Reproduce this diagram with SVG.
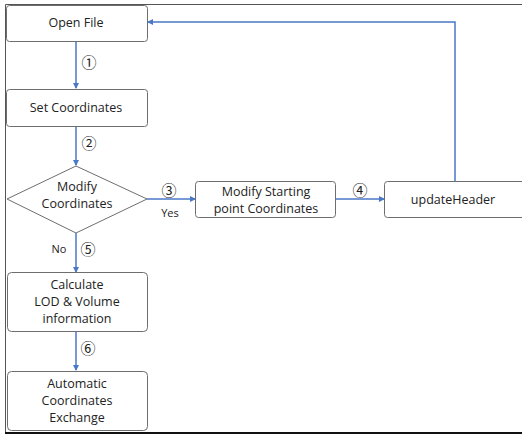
<svg xmlns="http://www.w3.org/2000/svg" width="522" height="434" viewBox="0 0 522 434">
<style>
.box{fill:#fff;stroke:#6e6e6e;stroke-width:1}
.t{font-family:"Open Sans","Noto Sans CJK KR",sans-serif;font-size:12.5px;fill:#222;text-anchor:middle}
.n{font-family:"Noto Sans CJK KR","DejaVu Sans",sans-serif;font-size:15px;fill:#222;text-anchor:middle}
.s{font-family:"Open Sans","Noto Sans CJK KR",sans-serif;font-size:11px;fill:#222;text-anchor:middle}
.c{fill:none;stroke:#4a78c8;stroke-width:1.5}
</style>
<defs>
<marker id="ah" markerWidth="6" markerHeight="6" refX="5" refY="3" orient="auto" markerUnits="userSpaceOnUse">
<path d="M0,0 L6,3 L0,6 z" fill="#4a78c8"/>
</marker>
</defs>
<rect x="0" y="0" width="522" height="434" fill="#fff"/>
<path d="M5.5,434 V4.5 H522" fill="none" stroke="#555" stroke-width="1"/>
<line x1="5" y1="433" x2="522" y2="433" stroke="#111" stroke-width="2"/>
<g id="connectors">
<line class="c" x1="76" y1="41" x2="76" y2="88" marker-end="url(#ah)"/>
<line class="c" x1="76" y1="126" x2="76" y2="165" marker-end="url(#ah)"/>
<line class="c" x1="147" y1="199" x2="195" y2="199" marker-end="url(#ah)"/>
<line class="c" x1="336" y1="199" x2="384" y2="199" marker-end="url(#ah)"/>
<polyline class="c" points="455,181 455,22 148,22" marker-end="url(#ah)"/>
<line class="c" x1="76" y1="233" x2="76" y2="272" marker-end="url(#ah)"/>
<line class="c" x1="76" y1="332" x2="76" y2="370" marker-end="url(#ah)"/>
<text class="n" x="89" y="68">①</text>
<text class="n" x="89" y="149">②</text>
<text class="n" x="169" y="196">③</text>
<text class="s" x="170" y="217">Yes</text>
<text class="n" x="360" y="196">④</text>
<text class="s" x="59" y="253">No</text>
<text class="n" x="88" y="255">⑤</text>
<text class="n" x="88" y="354">⑥</text>
</g>
<g id="open-file">
<rect class="box" x="6.5" y="5.5" width="141" height="36" rx="3"/>
<text class="t" x="76" y="27">Open File</text>
</g>
<g id="set-coordinates">
<rect class="box" x="6.5" y="89.5" width="141" height="37" rx="3"/>
<text class="t" x="76" y="112">Set Coordinates</text>
</g>
<g id="modify-coordinates">
<polygon class="box" points="76,166 147,199 76,233 7,199"/>
<text class="t" x="77" y="191">Modify</text>
<text class="t" x="77" y="208">Coordinates</text>
</g>
<g id="modify-starting">
<rect class="box" x="195.5" y="181.5" width="140" height="36" rx="3"/>
<text class="t" x="266" y="196">Modify Starting</text>
<text class="t" x="266" y="213">point Coordinates</text>
</g>
<g id="update-header">
<rect class="box" x="384.5" y="181.5" width="145" height="36" rx="3"/>
<text class="t" x="453" y="204">updateHeader</text>
</g>
<g id="calculate">
<rect class="box" x="7.5" y="272.5" width="140" height="59" rx="4"/>
<text class="t" x="77" y="289">Calculate</text>
<text class="t" x="77" y="306">LOD &amp; Volume</text>
<text class="t" x="77" y="323">information</text>
</g>
<g id="automatic">
<rect class="box" x="7.5" y="371.5" width="140" height="59" rx="4"/>
<text class="t" x="77" y="388">Automatic</text>
<text class="t" x="77" y="405">Coordinates</text>
<text class="t" x="77" y="422">Exchange</text>
</g>
</svg>
